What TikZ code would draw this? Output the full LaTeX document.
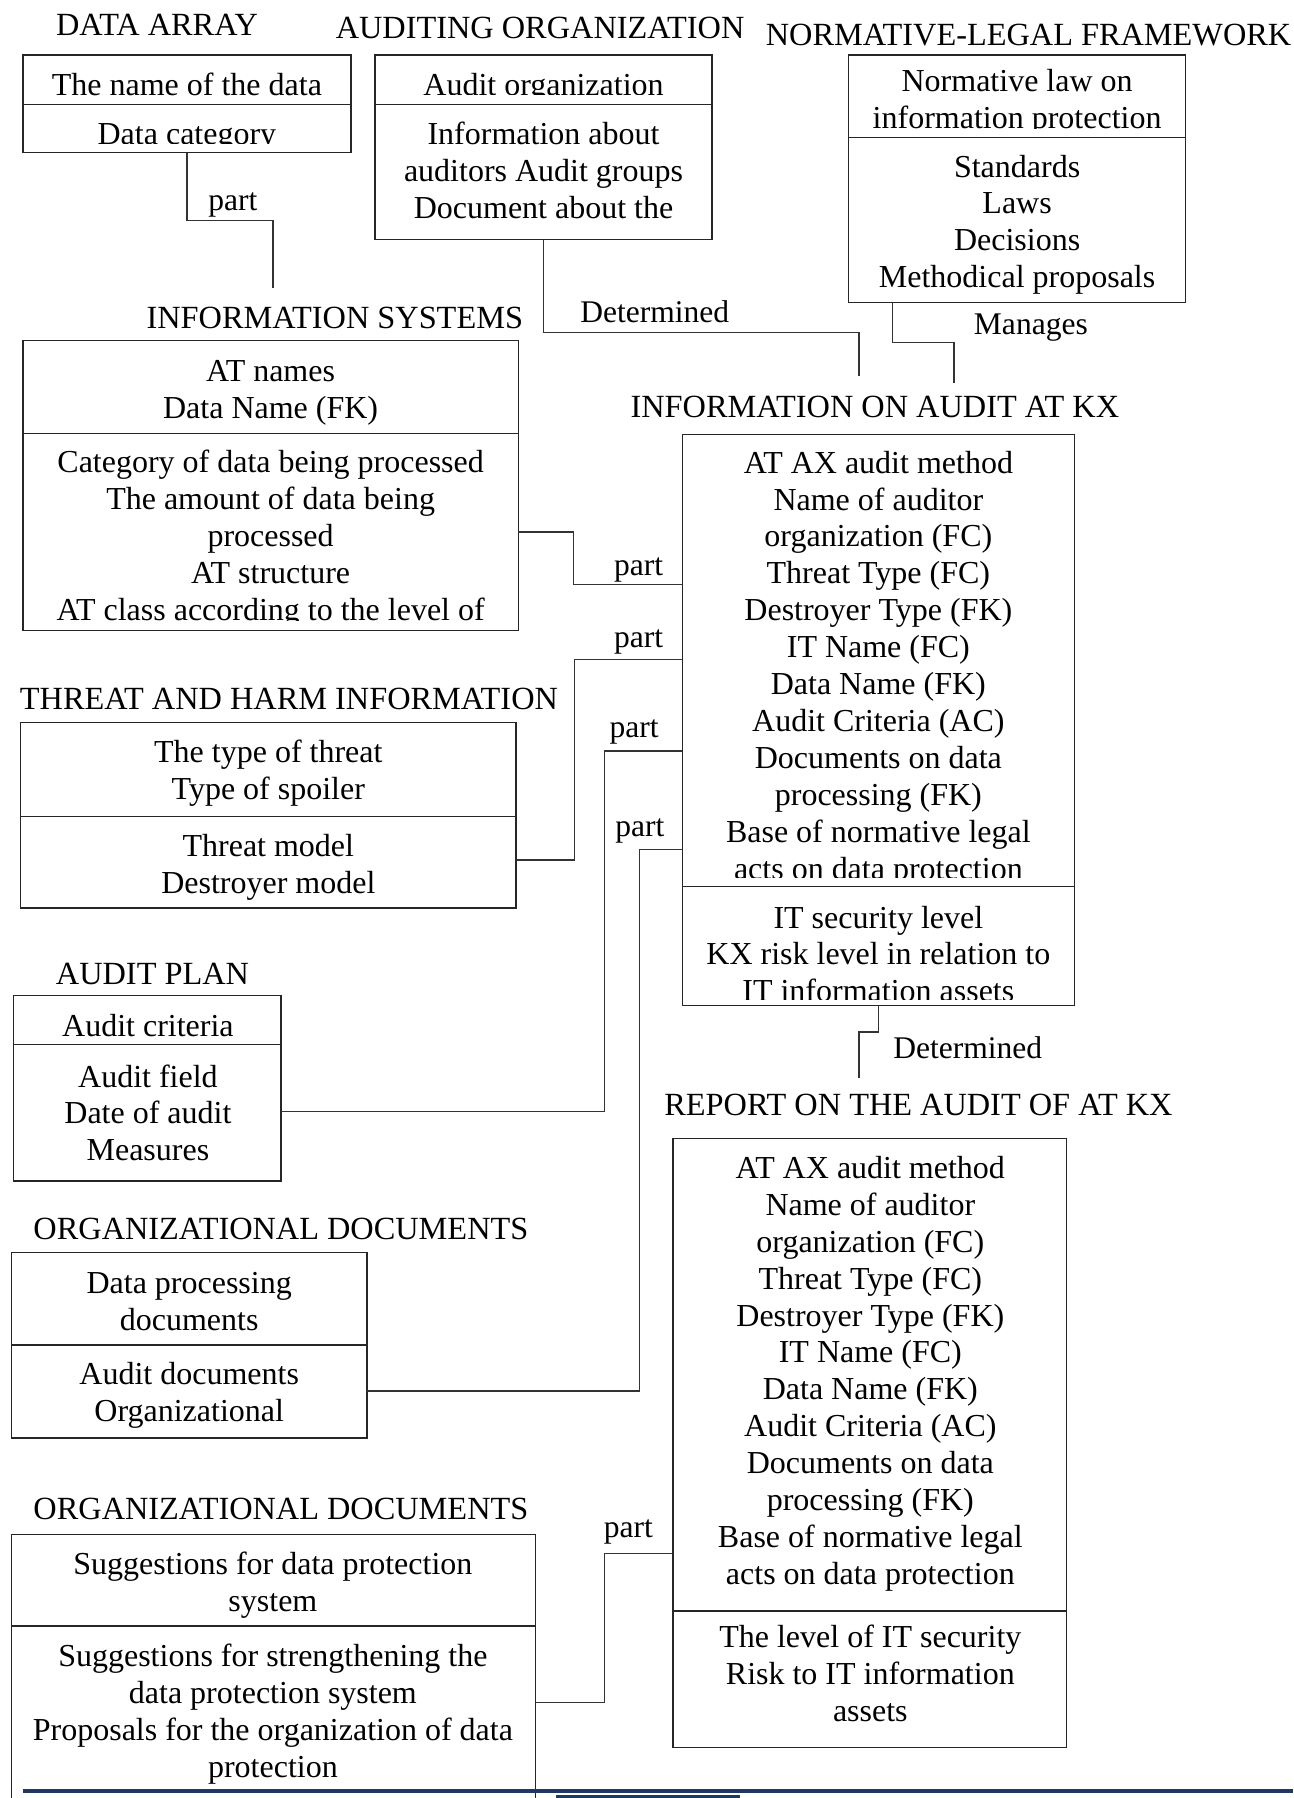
\documentclass[tikz,border=0pt]{standalone}
\usepackage{fontspec}
\setmainfont{Liberation Serif}
\definecolor{navy}{HTML}{1F3864}
\newcommand\cf{\fontsize{13.95}{16.1}\selectfont}
\newcommand\tf{\fontsize{14.1}{16.1}\selectfont}
\newcommand\lf{\fontsize{13.75}{16.1}\selectfont}
\tikzset{
 cell/.style={align=center, inner sep=0pt, font=\cf},
 ttl/.style={inner sep=0pt, font=\tf},
 lbl/.style={inner sep=0pt, font=\lf},
 frame/.style={draw=black!85, line width=0.6pt},
 conn/.style={draw=black!80, line width=0.55pt},
}
\begin{document}
\begin{tikzpicture}[x=0.5pt,y=-0.5pt]
\useasboundingbox (0,0) rectangle (1128,1568);

% ---------- DATA ARRAY
\node[ttl] (tda) at (137,21.5) {DATA ARRAY};
\draw[frame] (20,48) rectangle (306,133);
\draw[frame] (20,91) -- (306,91);
\node[cell] (da1) at (163,74) {The name of the data};
\begin{scope}
\clip (20,91) rectangle (306,125.5);
\node[cell] (da2) at (163,120) {Data category};
\end{scope}

% ---------- AUDITING ORGANIZATION
\node[ttl] (tao) at (471,24.5) {AUDITING ORGANIZATION};
\draw[frame] (327,48) rectangle (621,209);
\draw[frame] (327,91) -- (621,91);
\begin{scope}
\clip (327,48) rectangle (621,82.5);
\node[cell] (ao1) at (474,77) {Audit organization};
\end{scope}
\node[cell] (ao2) at (474,148.5) {Information about\\auditors Audit groups\\Document about the};

% ---------- NORMATIVE-LEGAL FRAMEWORK
\node[ttl] (tnl) at (897,30.5) {NORMATIVE-LEGAL FRAMEWORK};
\draw[frame] (740,48) rectangle (1034,264);
\draw[frame] (740,120) -- (1034,120);
\begin{scope}
\clip (740,48) rectangle (1034,112);
\node[cell] (nl1) at (887,89) {Normative law on\\information protection};
\end{scope}
\node[cell] (nl2) at (887,196) {Standards\\Laws\\Decisions\\Methodical proposals};

% ---------- INFORMATION SYSTEMS
\node[ttl] (tis) at (292,277.5) {INFORMATION SYSTEMS};
\draw[frame] (20,297) rectangle (452,550);
\draw[frame] (20,378) -- (452,378);
\node[cell] (is1) at (236,342.5) {AT names\\Data Name (FK)};
\begin{scope}
\clip (20,378) rectangle (452,541);
\node[cell] (is2) at (236,470) {Category of data being processed\\The amount of data being\\processed\\AT structure\\AT class according to the level of};
\end{scope}

% ---------- INFORMATION ON AUDIT AT KX
\node[ttl] (tia) at (763,354.5) {INFORMATION ON AUDIT AT KX};
\draw[frame] (595,379) rectangle (937,877);
\draw[frame] (595,773) -- (937,773);
\begin{scope}
\clip (595,379) rectangle (937,765);
\node[cell] (ia1) at (766,583) {AT AX audit method\\Name of auditor\\organization (FC)\\Threat Type (FC)\\Destroyer Type (FK)\\IT Name (FC)\\Data Name (FK)\\Audit Criteria (AC)\\Documents on data\\processing (FK)\\Base of normative legal\\acts on data protection};
\end{scope}
\begin{scope}
\clip (595,773) rectangle (937,872);
\node[cell] (ia2) at (766,832) {IT security level\\KX risk level in relation to\\IT information assets};
\end{scope}

% ---------- THREAT AND HARM INFORMATION
\node[ttl] (tth) at (252,609.5) {THREAT AND HARM INFORMATION};
\draw[frame] (18,630) rectangle (450,792);
\draw[frame] (18,712) -- (450,712);
\node[cell] (th1) at (234,674) {The type of threat\\Type of spoiler};
\node[cell] (th2) at (234,756.5) {Threat model\\Destroyer model};

% ---------- AUDIT PLAN
\node[ttl] (tap) at (133,849.5) {AUDIT PLAN};
\draw[frame] (12,868) rectangle (245,1030);
\draw[frame] (12,911) -- (245,911);
\node[cell] (ap1) at (129,894) {Audit criteria};
\node[cell] (ap2) at (129,970.5) {Audit field\\Date of audit\\Measures};

% ---------- ORGANIZATIONAL DOCUMENTS (1)
\node[ttl] (tod1) at (245,1071.5) {ORGANIZATIONAL DOCUMENTS};
\draw[frame] (10,1092) rectangle (320,1254);
\draw[frame] (10,1173) -- (320,1173);
\node[cell] (od11) at (165,1135) {Data processing\\documents};
\node[cell] (od12) at (165,1217) {Audit documents\\Organizational};

% ---------- REPORT ON THE AUDIT OF AT KX
\node[ttl] (trp) at (801,963.5) {REPORT ON THE AUDIT OF AT KX};
\draw[frame] (587,993) rectangle (930,1524);
\draw[frame] (587,1405) -- (930,1405);
\node[cell] (rp1) at (759,1198) {AT AX audit method\\Name of auditor\\organization (FC)\\Threat Type (FC)\\Destroyer Type (FK)\\IT Name (FC)\\Data Name (FK)\\Audit Criteria (AC)\\Documents on data\\processing (FK)\\Base of normative legal\\acts on data protection};
\node[cell] (rp2) at (759,1459) {The level of IT security\\Risk to IT information\\assets};

% ---------- ORGANIZATIONAL DOCUMENTS (2)
\node[ttl] (tod2) at (245,1315.5) {ORGANIZATIONAL DOCUMENTS};
\draw[frame] (10,1568) -- (10,1338) -- (467,1338) -- (467,1568);
\draw[frame] (10,1418) -- (467,1418);
\node[cell] (od21) at (238,1382) {Suggestions for data protection\\system};
\node[cell] (od22) at (238,1495) {Suggestions for strengthening the\\data protection system\\Proposals for the organization of data\\protection};

% ---------- attachment points
\coordinate (dab) at (163,133);
\coordinate (isin) at (238,251);
\coordinate (aob) at (474,209);
\coordinate (iain1) at (749,328);
\coordinate (nlb) at (778,264);
\coordinate (iain2) at (832,334);
\coordinate (isr) at (452,464);
\coordinate (ial1) at (595,510);
\coordinate (thr) at (450,750);
\coordinate (ial2) at (595,575);
\coordinate (apr) at (245,969);
\coordinate (ial3) at (595,655);
\coordinate (od1r) at (320,1213);
\coordinate (ial4) at (595,741);
\coordinate (iab) at (766,877);
\coordinate (rpin) at (749,940);
\coordinate (od2r) at (467,1485);
\coordinate (rpl) at (587,1355);

% ---------- connectors
\draw[conn] (dab) -- ++(0,59) -| (isin);
\draw[conn] (aob) -- ++(0,81) -| (iain1);
\draw[conn] (nlb) -- ++(0,35) -| (iain2);
\draw[conn] (isr) -- ++(48,0) |- (ial1);
\draw[conn] (thr) -- ++(51,0) |- (ial2);
\draw[conn] (apr) -- ++(282,0) |- (ial3);
\draw[conn] (od1r) -- ++(238,0) |- (ial4);
\draw[conn] (iab) -- ++(0,23) -| (rpin);
\draw[conn] (od2r) -- ++(60,0) |- (rpl);

% ---------- connector labels
\node[lbl] (lp1) at (203,179) {part};
\node[lbl] (ld1) at (571,272) {Determined};
\node[lbl] (lm1) at (899,286) {Manages};
\node[lbl] (lp2) at (557,497) {part};
\node[lbl] (lp3) at (557,560) {part};
\node[lbl] (lp4) at (553,638) {part};
\node[lbl] (lp5) at (558,725) {part};
\node[lbl] (ld2) at (844,914) {Determined};
\node[lbl] (lp6) at (548,1336) {part};

% ---------- footer bar
\fill[navy] (20,1560.5) rectangle (1128,1563.5);
\fill[navy] (485,1565) rectangle (645,1568);
\end{tikzpicture}
\end{document}
